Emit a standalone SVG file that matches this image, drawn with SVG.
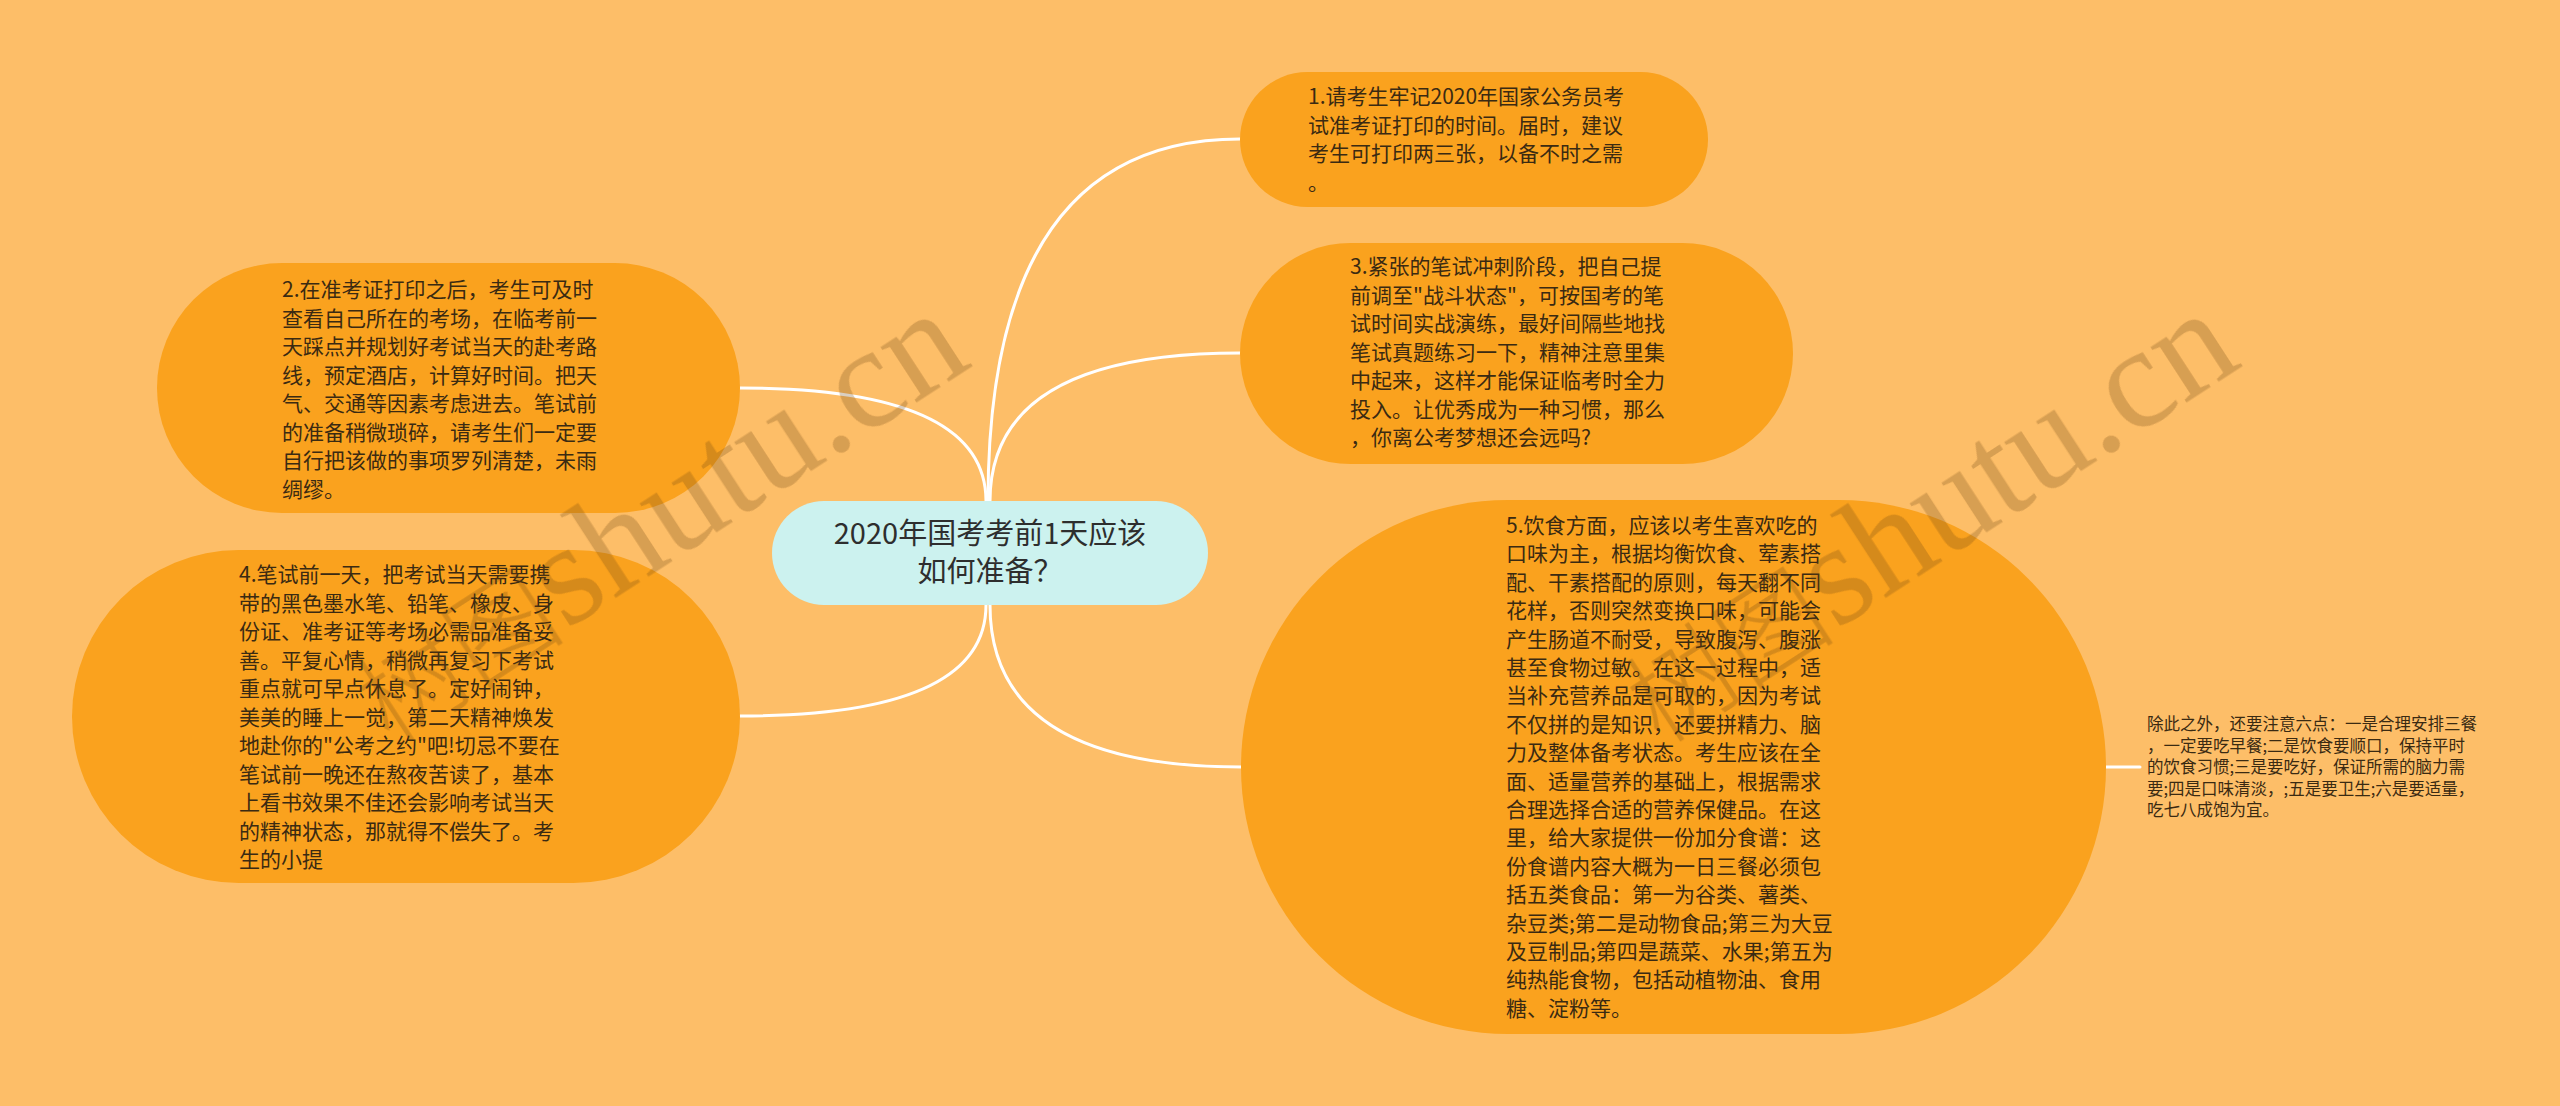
<svg xmlns="http://www.w3.org/2000/svg" width="2560" height="1106" viewBox="0 0 2560 1106">
<defs>
<style>
.bg{fill:#fdbe68}
.bub{fill:#faa21e}
.ctr{fill:#ccf2ef}
.t{font-family:"Noto Sans CJK SC","Microsoft YaHei",sans-serif;font-size:21px;fill:#3a2a12}
.ct{font-family:"Noto Sans CJK SC","Microsoft YaHei",sans-serif;font-size:29px;fill:#2e2e2e;text-anchor:middle}
.st{font-family:"Noto Sans CJK SC","Microsoft YaHei",sans-serif;font-size:16.5px;fill:#3a2a12}
.conn{fill:none;stroke:#ffffff;stroke-width:3;stroke-linecap:round}
.wm{fill:#6e4614;opacity:0.26}
.wmc{font-family:"Noto Sans CJK SC",sans-serif;font-size:105px;font-weight:300}
.wms{font-family:"Liberation Serif",serif;font-size:145px}
</style>
</defs>
<rect class="bg" x="0" y="0" width="2560" height="1106"/>

<g id="connectors">
<path class="conn" d="M988,501 Q988,139 1240,139"/>
<path class="conn" d="M990,501 Q990,353 1240,353"/>
<path class="conn" d="M986,501 Q986,388 740,388"/>
<path class="conn" d="M986,605 Q986,716 740,716"/>
<path class="conn" d="M990,605 Q990,767 1242,767"/>
<path class="conn" d="M2106,767 L2140,767"/>
</g>

<g id="node-center">
<rect class="ctr" x="772" y="501" width="436" height="104" rx="52"/>
<text class="ct" x="990" y="544">2020年国考考前1天应该</text>
<text class="ct" x="990" y="582">如何准备？</text>
</g>

<g id="node-1">
<rect class="bub" x="1240" y="72" width="468" height="135" rx="67.5"/>
<text class="t" x="1308" y="104">1.请考生牢记2020年国家公务员考</text>
<text class="t" x="1308" y="132.5">试准考证打印的时间。届时，建议</text>
<text class="t" x="1308" y="161">考生可打印两三张，以备不时之需</text>
<text class="t" x="1308" y="189.5">。</text>
</g>

<g id="node-3">
<rect class="bub" x="1240" y="243" width="553" height="221" rx="110.5"/>
<text class="t" x="1350" y="274">3.紧张的笔试冲刺阶段，把自己提</text>
<text class="t" x="1350" y="302.5">前调至"战斗状态"，可按国考的笔</text>
<text class="t" x="1350" y="331">试时间实战演练，最好间隔些地找</text>
<text class="t" x="1350" y="359.5">笔试真题练习一下，精神注意里集</text>
<text class="t" x="1350" y="388">中起来，这样才能保证临考时全力</text>
<text class="t" x="1350" y="416.5">投入。让优秀成为一种习惯，那么</text>
<text class="t" x="1350" y="445">，你离公考梦想还会远吗?</text>
</g>

<g id="node-2">
<rect class="bub" x="157" y="263" width="583" height="250" rx="125"/>
<text class="t" x="282" y="297">2.在准考证打印之后，考生可及时</text>
<text class="t" x="282" y="325.5">查看自己所在的考场，在临考前一</text>
<text class="t" x="282" y="354">天踩点并规划好考试当天的赴考路</text>
<text class="t" x="282" y="382.5">线，预定酒店，计算好时间。把天</text>
<text class="t" x="282" y="411">气、交通等因素考虑进去。笔试前</text>
<text class="t" x="282" y="439.5">的准备稍微琐碎，请考生们一定要</text>
<text class="t" x="282" y="468">自行把该做的事项罗列清楚，未雨</text>
<text class="t" x="282" y="496.5">绸缪。</text>
</g>

<g id="node-4">
<rect class="bub" x="72" y="550" width="668" height="333" rx="166.5"/>
<text class="t" x="239" y="582">4.笔试前一天，把考试当天需要携</text>
<text class="t" x="239" y="610.5">带的黑色墨水笔、铅笔、橡皮、身</text>
<text class="t" x="239" y="639">份证、准考证等考场必需品准备妥</text>
<text class="t" x="239" y="667.5">善。平复心情，稍微再复习下考试</text>
<text class="t" x="239" y="696">重点就可早点休息了。定好闹钟，</text>
<text class="t" x="239" y="724.5">美美的睡上一觉，第二天精神焕发</text>
<text class="t" x="239" y="753">地赴你的"公考之约"吧!切忌不要在</text>
<text class="t" x="239" y="781.5">笔试前一晚还在熬夜苦读了，基本</text>
<text class="t" x="239" y="810">上看书效果不佳还会影响考试当天</text>
<text class="t" x="239" y="838.5">的精神状态，那就得不偿失了。考</text>
<text class="t" x="239" y="867">生的小提</text>
</g>

<g id="node-5">
<rect class="bub" x="1241" y="500" width="865" height="534" rx="267"/>
<text class="t" x="1506" y="533">5.饮食方面，应该以考生喜欢吃的</text>
<text class="t" x="1506" y="561.4">口味为主，根据均衡饮食、荤素搭</text>
<text class="t" x="1506" y="589.8">配、干素搭配的原则，每天翻不同</text>
<text class="t" x="1506" y="618.2">花样，否则突然变换口味，可能会</text>
<text class="t" x="1506" y="646.6">产生肠道不耐受，导致腹泻、腹涨</text>
<text class="t" x="1506" y="675">甚至食物过敏。在这一过程中，适</text>
<text class="t" x="1506" y="703.4">当补充营养品是可取的，因为考试</text>
<text class="t" x="1506" y="731.8">不仅拼的是知识，还要拼精力、脑</text>
<text class="t" x="1506" y="760.2">力及整体备考状态。考生应该在全</text>
<text class="t" x="1506" y="788.6">面、适量营养的基础上，根据需求</text>
<text class="t" x="1506" y="817">合理选择合适的营养保健品。在这</text>
<text class="t" x="1506" y="845.4">里，给大家提供一份加分食谱：这</text>
<text class="t" x="1506" y="873.8">份食谱内容大概为一日三餐必须包</text>
<text class="t" x="1506" y="902.2">括五类食品：第一为谷类、薯类、</text>
<text class="t" x="1506" y="930.6">杂豆类;第二是动物食品;第三为大豆</text>
<text class="t" x="1506" y="959">及豆制品;第四是蔬菜、水果;第五为</text>
<text class="t" x="1506" y="987.4">纯热能食物，包括动植物油、食用</text>
<text class="t" x="1506" y="1015.8">糖、淀粉等。</text>
</g>

<g id="node-6">
<text class="st" x="2147" y="730">除此之外，还要注意六点：一是合理安排三餐</text>
<text class="st" x="2147" y="751.5">，一定要吃早餐;二是饮食要顺口，保持平时</text>
<text class="st" x="2147" y="773">的饮食习惯;三是要吃好，保证所需的脑力需</text>
<text class="st" x="2147" y="794.5">要;四是口味清淡，;五是要卫生;六是要适量，</text>
<text class="st" x="2147" y="816">吃七八成饱为宜。</text>
</g>

<g id="watermarks" class="wm">
<g transform="translate(390,745) rotate(-33)">
<text class="wmc" x="0" y="0">树图</text>
<text class="wms" x="210" y="0">shutu.cn</text>
</g>
<g transform="translate(1660,745) rotate(-33)">
<text class="wmc" x="0" y="0">树图</text>
<text class="wms" x="210" y="0">shutu.cn</text>
</g>
</g>
</svg>
